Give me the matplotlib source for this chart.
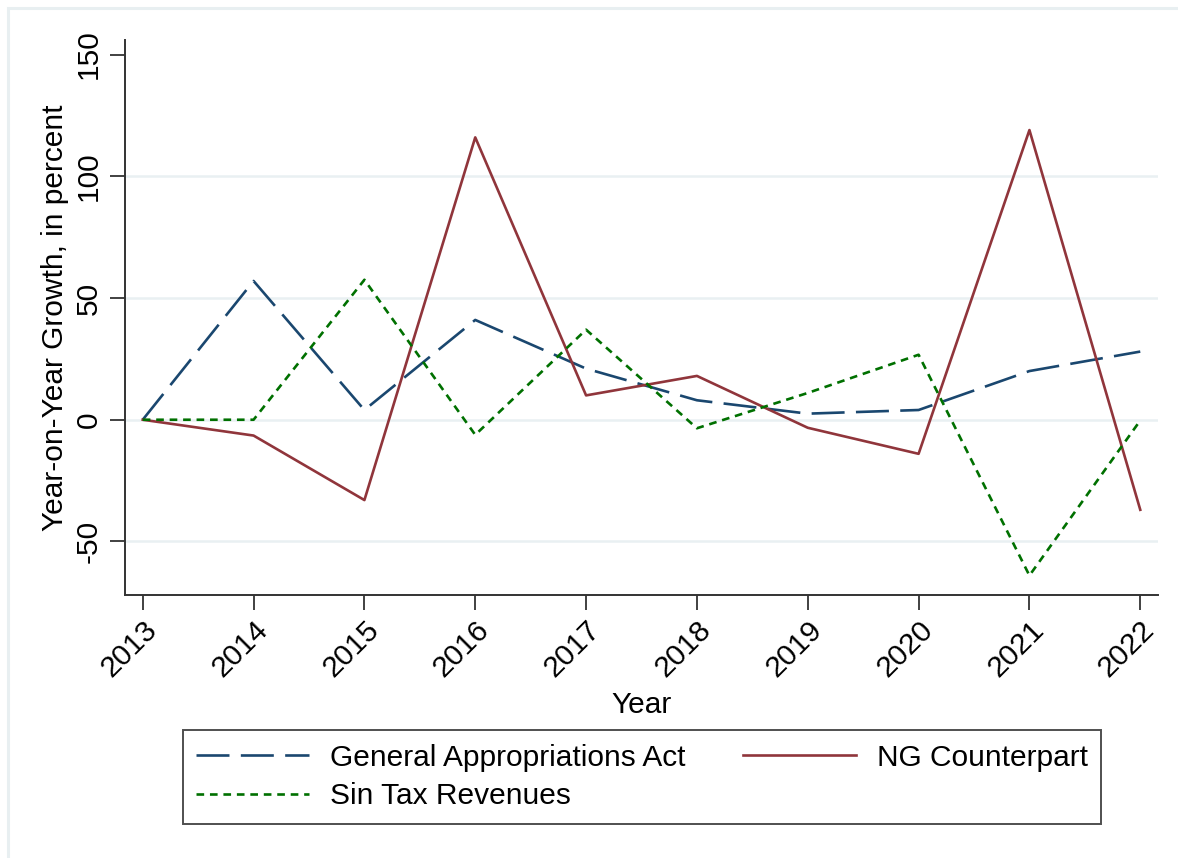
import matplotlib
matplotlib.use("Agg")
import matplotlib.pyplot as plt
from matplotlib.patches import Rectangle

# data
years = [2013, 2014, 2015, 2016, 2017, 2018, 2019, 2020, 2021, 2022]
gaa = [0, 57, 4, 41, 21, 8, 2.5, 4, 20, 28]
ng_counterpart = [0, -6.5, -33, 116, 10, 18, -3.3, -14, 119, -37]
sin_tax = [0, 0, 57.5, -6.2, 37, -3.5, 11, 26.7, -64, -0.3]
yticks = [-50, 0, 50, 100, 150]
grid_vals = [-50, 0, 50, 100]

plt.rcParams['font.family'] = ['Liberation Sans', 'DejaVu Sans']
fs = 21.5

fig = plt.figure(figsize=(11.78, 8.58), dpi=100)
ax = fig.add_axes([125 / 1178, 1 - 595 / 858, 1033 / 1178, 555 / 858])

# light outer frame (graph region), cropped on right and bottom
fig.patches.append(Rectangle((8 / 1178, -0.1), 1.2, 1.1 - 8 / 858,
                             transform=fig.transFigure, fill=False,
                             edgecolor='#e8eff1', linewidth=2.2))

for g in grid_vals:
    ax.axhline(g, color='#e9f0f2', linewidth=1.8, zorder=0)

lw = 1.9
l_gaa, = ax.plot(years, gaa, color='#1a476f', linewidth=lw,
                 linestyle=(0, (12.5, 4.3)), dash_capstyle='butt')
l_ng, = ax.plot(years, ng_counterpart, color='#90353b', linewidth=lw)
l_sin, = ax.plot(years, sin_tax, color='#007000', linewidth=lw,
                 linestyle=(0, (2.9, 2.2)), dash_capstyle='butt')

ax.set_xlim(2012.84, 2022.16)
ax.set_ylim(-72, 156)
ax.set_xticks(years)
ax.set_xticklabels([str(y) for y in years], rotation=45, ha='right',
                   rotation_mode='anchor', fontsize=fs)
ax.set_yticks(yticks)
ax.set_yticklabels([str(v) for v in yticks], rotation=90, va='center',
                   fontsize=fs)
ax.tick_params(axis='both', length=11, width=1.3, color='#333333', pad=5)
ax.tick_params(axis='x', pad=4)

for s in ['top', 'right']:
    ax.spines[s].set_visible(False)
for s in ['left', 'bottom']:
    ax.spines[s].set_linewidth(1.4)
    ax.spines[s].set_color('#333333')

ax.set_xlabel('Year', fontsize=fs, labelpad=6)
ax.set_ylabel('Year-on-Year Growth, in percent', fontsize=fs, labelpad=4)

leg = fig.legend([l_gaa, l_sin, l_ng],
                 ['General Appropriations Act', 'Sin Tax Revenues', 'NG Counterpart'],
                 ncol=2, loc='center',
                 bbox_to_anchor=(642 / 1178, 1 - 777 / 858),
                 fontsize=fs, frameon=True, fancybox=False,
                 handlelength=3.8, handletextpad=0.7, columnspacing=1.9,
                 labelspacing=0.35, borderpad=0.45)
leg.get_frame().set_edgecolor('#222222')
leg.get_frame().set_linewidth(1.4)

fig.savefig('out.png', dpi=100, facecolor='white')
